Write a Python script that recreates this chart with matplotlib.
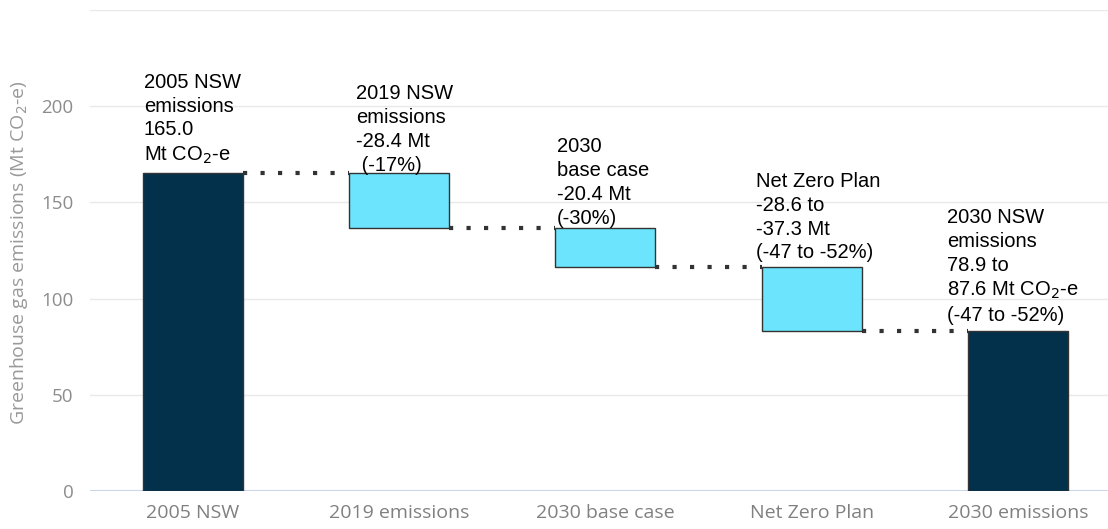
import matplotlib.pyplot as plt

# data
categories = ["2005 NSW", "2019 emissions", "2030 base case", "Net Zero Plan", "2030 emissions"]
start_2005 = 165.0
changes = [-28.4, -20.4, -32.95]   # net zero uses midpoint of -28.6 to -37.3
end_2030 = 83.25                   # midpoint of 78.9 to 87.6
notes = [
    "2005 NSW\nemissions\n165.0\nMt CO$_2$-e",
    "2019 NSW\nemissions\n-28.4 Mt\n (-17%)",
    "2030\nbase case\n-20.4 Mt\n(-30%)",
    "Net Zero Plan\n-28.6 to\n-37.3 Mt\n(-47 to -52%)",
    "2030 NSW\nemissions\n78.9 to\n87.6 Mt CO$_2$-e\n(-47 to -52%)",
]

DARK = "#03304a"
LIGHT = "#6ce4fd"
W = 0.485

fig = plt.figure(figsize=(11.08, 5.29), dpi=100)
ax = fig.add_axes([0.0812, 0.0718, 0.9305, 0.9097])

# bars
bottoms = [0]
heights = [start_2005]
level = start_2005
for c in changes:
    bottoms.append(level + c)
    heights.append(-c)
    level += c
bottoms.append(0)
heights.append(end_2030)
colors = [DARK, LIGHT, LIGHT, LIGHT, DARK]
x = list(range(len(categories)))
ax.bar(x, heights, bottom=bottoms, width=W, color=colors,
       edgecolor="#333333", linewidth=1, zorder=3)

# connectors
levels = [start_2005]
lv = start_2005
for c in changes:
    lv += c
    levels.append(lv)
for i, lv in enumerate(levels):
    ax.plot([i + W / 2, i + 1 - W / 2], [lv, lv], color="#333333",
            linestyle=(0, (1, 3.2)), linewidth=3, zorder=2)

# annotations (x offset from bar left, y of text top)
note_x = [0.004, 0.032, 0.007, -0.027, -0.101]
note_y = [217.3, 211.3, 183.8, 165.7, 147.0]
for i, t in enumerate(notes):
    ax.text(i - W / 2 + note_x[i], note_y[i], t, ha="left", va="top",
            fontsize=14.5, family="Liberation Sans", color="black",
            linespacing=1.32, zorder=4)

ax.set_xlim(-0.5, 4.5)
ax.set_ylim(0, 250)
ax.set_yticks([0, 50, 100, 150, 200, 250])
ax.set_yticklabels(["0", "50", "100", "150", "200", ""])
ax.set_xticks(x)
ax.set_xticklabels(categories)
ax.tick_params(axis="both", length=0)
ax.tick_params(axis="y", pad=12, labelsize=13.5, labelcolor="#8c8c8c")
ax.tick_params(axis="x", pad=9, labelsize=14, labelcolor="#808080")
for lab in ax.get_xticklabels() + ax.get_yticklabels():
    lab.set_family("Open Sans")

ax.grid(axis="y", color="#e9e9e9", linewidth=1, zorder=0)
ax.set_axisbelow(True)
for s in ax.spines.values():
    s.set_visible(False)
ax.axhline(0, color="#ccd6eb", linewidth=1.5, zorder=2)

ax.set_ylabel("Greenhouse gas emissions (Mt CO$_2$-e)", color="#999999",
              fontsize=14, family="Open Sans")
ax.yaxis.set_label_coords(-0.058, 0.495)

fig.savefig("out.png", dpi=100)
